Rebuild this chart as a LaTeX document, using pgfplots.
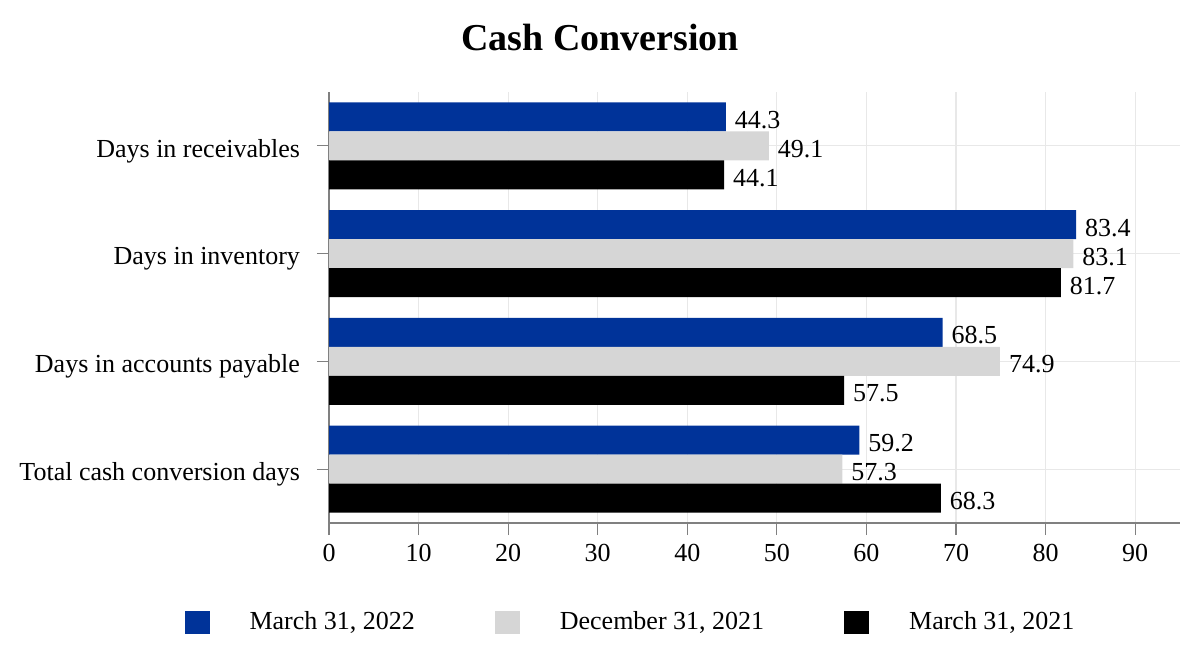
\documentclass[border=0pt]{standalone}
\usepackage{fontspec}
\setmainfont{Liberation Serif}
\usepackage{pgfplots}
\pgfplotsset{compat=1.18}
\definecolor{cblue}{RGB}{0,51,153}
\definecolor{cgray}{RGB}{214,214,214}
\definecolor{gridc}{RGB}{232,232,232}
\definecolor{axc}{RGB}{128,128,128}
\begin{document}
\fontsize{13bp}{15bp}\selectfont
\begin{tikzpicture}
\useasboundingbox (0,0) rectangle (600bp,333bp);
\node[font=\fontsize{19bp}{22bp}\selectfont\bfseries] at (300bp,314bp) {Cash Conversion};
\begin{axis}[
 at={(164.5bp,71.5bp)}, anchor=south west,
 width=425.5bp, height=215.5bp, scale only axis,
 xbar, bar width=14.5bp,
 xmin=0, xmax=95, ymin=-0.5, ymax=3.5,
 xtick={0,10,...,90},
 ytick={0,1,2,3},
 yticklabels={Total cash conversion days, Days in accounts payable, Days in inventory, Days in receivables},
 axis x line*=bottom, axis y line*=left,
 axis line style={-, axc, line width=0.75bp},
 grid=major, grid style={gridc, line width=0.6bp},
 tick style={axc, line width=0.6bp},
 tick align=outside, major tick length=6bp,
 /pgf/number format/assume math mode=true,
 tick label style={font=\fontsize{13bp}{15bp}\selectfont},
 yticklabel style={xshift=-4bp, yshift=-2.5bp},
 nodes near coords,
 nodes near coords style={anchor=west, yshift=-1.5bp, font=\fontsize{13bp}{15bp}\selectfont, black, /pgf/number format/.cd, fixed, fixed zerofill, precision=1, assume math mode=true},
 legend columns=3,
 legend style={at={(0.3555,-0.2297)}, anchor=center, draw=none, fill=none, font=\fontsize{13bp}{15bp}\selectfont,
   /tikz/every even column/.append style={column sep=38bp},
   /tikz/every odd column/.append style={column sep=18bp}},
 legend image code/.code={\fill[#1] (0bp,-5.75bp) rectangle (12.5bp,5.75bp);},
]
\addplot[fill=cblue, draw=none, bar shift=14.5bp] coordinates {(59.2,0) (68.5,1) (83.4,2) (44.3,3)};
\addplot[fill=cgray, draw=none, bar shift=0bp] coordinates {(57.3,0) (74.9,1) (83.1,2) (49.1,3)};
\addplot[fill=black, draw=none, bar shift=-14.5bp] coordinates {(68.3,0) (57.5,1) (81.7,2) (44.1,3)};
\legend{{March 31, 2022}, {December 31, 2021}, {March 31, 2021}}
\end{axis}
\end{tikzpicture}
\end{document}
